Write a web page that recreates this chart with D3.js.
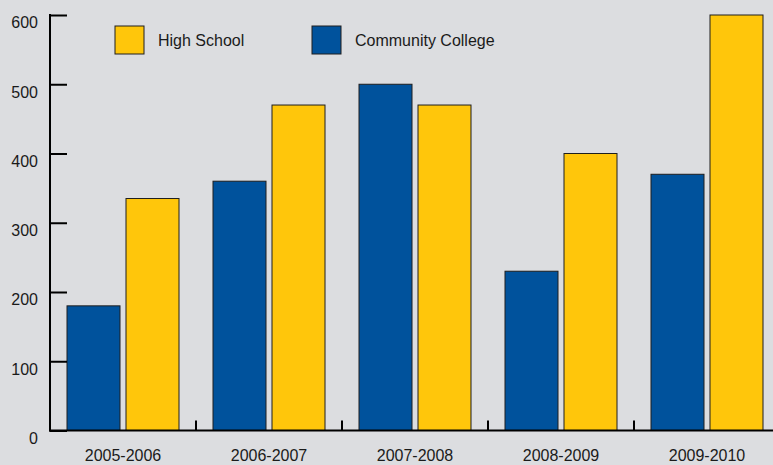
<!DOCTYPE html>
<html><head><meta charset="utf-8">
<script src="https://cdn.jsdelivr.net/npm/d3@7"></script>
<style>html,body{margin:0;padding:0;background:#dcdde0;}svg{display:block;font-family:"Liberation Sans",Arial,sans-serif;}</style>
</head><body>
<svg id="c" width="773" height="465"></svg>
<script>
const categories = ["2005-2006","2006-2007","2007-2008","2008-2009","2009-2010"];
const seriesNames = ["Community College","High School"];
const communityCollege = [180,360,500,230,370];
const highSchool = [335,470,470,400,600];
const yTicks = [0,100,200,300,400,500,600];
const legendOrder = ["High School","Community College"];
const colors = {"Community College":"#00529c","High School":"#ffc60b"};

const svg = d3.select("#c");
svg.append("rect").attr("width",773).attr("height",465).attr("fill","#dcdde0");

const x0 = d3.scaleBand().domain(categories).range([50,780]).paddingInner(0).paddingOuter(0);
const x1 = d3.scaleBand().domain(seriesNames).range([17,129]).paddingInner(6/59).paddingOuter(0);
const y = d3.scaleLinear().domain([0,600]).range([430.5,15]);

const data = categories.map((c,i)=>({cat:c, vals:[
  {name:"Community College", v:communityCollege[i]},
  {name:"High School", v:highSchool[i]}]}));

const g = svg.append("g");
g.selectAll("g.grp").data(data).join("g").attr("class","grp")
 .attr("transform",d=>`translate(${x0(d.cat)},0)`)
 .selectAll("rect").data(d=>d.vals).join("rect")
 .attr("x",d=>x1(d.name)).attr("width",x1.bandwidth())
 .attr("y",d=>y(d.v)).attr("height",d=>y(0)-y(d.v))
 .attr("fill",d=>colors[d.name]).attr("stroke","#1e1e1e").attr("stroke-width",1);

// Y axis
const ya = svg.append("g").attr("transform","translate(50,0)")
 .call(d3.axisLeft(y).tickValues(yTicks).tickSize(-17).tickPadding(12));
ya.select(".domain").remove();
ya.selectAll(".tick line").attr("stroke","#000").attr("stroke-width",2);
ya.selectAll(".tick text").attr("font-size",16).attr("fill","#1a1a1a").attr("font-family","Liberation Sans, Arial, sans-serif").attr("dy","0.8em");
svg.append("line").attr("x1",50).attr("x2",50).attr("y1",14).attr("y2",431.5).attr("stroke","#000").attr("stroke-width",2);

// X axis
const xa = svg.append("g").attr("transform",`translate(0,${y(0)})`)
 .call(d3.axisBottom(x0).tickSize(0).tickPadding(19));
xa.select(".domain").remove();
xa.selectAll(".tick text").attr("font-size",16).attr("fill","#1a1a1a").attr("font-family","Liberation Sans, Arial, sans-serif");
svg.append("line").attr("x1",49).attr("x2",773).attr("y1",y(0)).attr("y2",y(0)).attr("stroke","#000").attr("stroke-width",2);
svg.selectAll("line.sep").data(categories.slice(1)).join("line").attr("class","sep")
 .attr("x1",d=>x0(d)).attr("x2",d=>x0(d)).attr("y1",y(0)-10).attr("y2",y(0))
 .attr("stroke","#000").attr("stroke-width",2);

// Legend
const legX = [115,312];
const lg = svg.selectAll("g.leg").data(legendOrder).join("g").attr("class","leg")
 .attr("transform",(d,i)=>`translate(${legX[i]},26)`);
lg.append("rect").attr("width",29).attr("height",28).attr("fill",d=>colors[d]).attr("stroke","#1e1e1e").attr("stroke-width",1);
lg.append("text").attr("x",43).attr("y",14).attr("dy","0.35em").attr("font-size",16).attr("fill","#1a1a1a").text(d=>d);
</script>
</body></html>
